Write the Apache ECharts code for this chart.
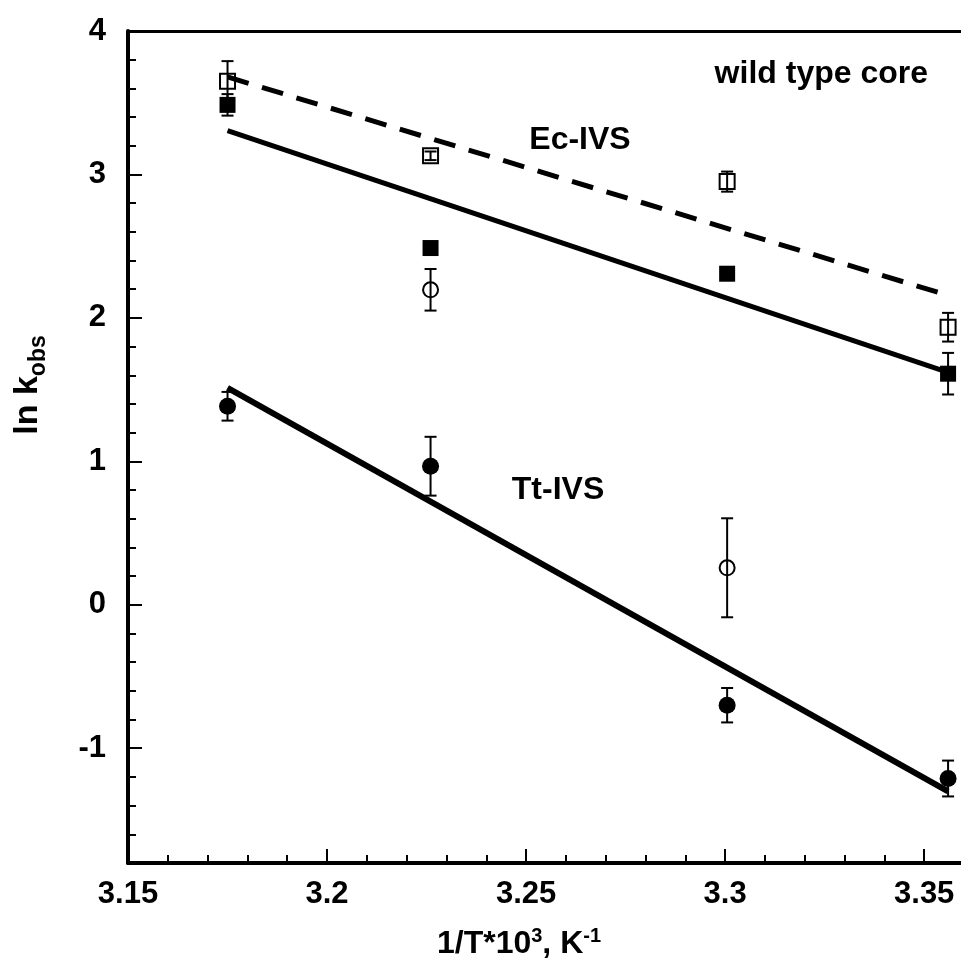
<!DOCTYPE html>
<html><head><meta charset="utf-8">
<script src="https://cdn.jsdelivr.net/npm/echarts@6/dist/echarts.min.js"></script>
<style>html,body{margin:0;padding:0;background:#fff}#c{width:961px;height:964px}</style>
</head><body><div id="c"></div>
<script>
// ---- data ----
const xValues = [3.175, 3.226, 3.3005, 3.356];
const ecOpenSquare = [3.65, 3.13, 2.95, 1.935];
const ecOpenSquareErr = [0.14, 0.03, 0.07, 0.10];
const ecFilledSquare = [3.485, 2.487, 2.308, 1.611];
const ecFilledSquareErr = [0.075, 0.03, 0.03, 0.145];
const ttFilledCircle = [1.384, 0.966, -0.70, -1.211];
const ttFilledCircleErr = [0.10, 0.205, 0.12, 0.125];
const openCircleX = [3.226, 3.3005];
const openCircle = [2.196, 0.258];
const openCircleErr = [0.145, 0.345];
const fitX = [3.175, 3.356];
const ecDashedFit = [3.68, 2.157];
const ecSolidFit = [3.306, 1.62];
const ttSolidFit = [1.512, -1.30];
const xTicks = [3.15, 3.2, 3.25, 3.3, 3.35];
const yTicks = [-1, 0, 1, 2, 3, 4];
const xRange = [3.15, 3.36];
const yRange = [-1.8, 4];

const FONT = '"Liberation Sans", Arial, Helvetica, sans-serif';
const chart = echarts.init(document.getElementById('c'), null, {renderer: 'canvas'});

function pairs(xs, ys) { return xs.map((x, i) => [x, ys[i]]); }
function errSeries(xs, ys, es) {
  return {
    type: 'custom', xAxisIndex: 0, yAxisIndex: 0, silent: true, z: 3,
    encode: {x: 0, y: [1, 2]},
    data: xs.map((x, i) => [x, ys[i] - es[i], ys[i] + es[i]]),
    renderItem(params, api) {
      const lo = api.coord([api.value(0), api.value(1)]);
      const hi = api.coord([api.value(0), api.value(2)]);
      const w = 6;
      const style = {stroke: '#000', lineWidth: 2, fill: null};
      return {type: 'group', children: [
        {type: 'line', shape: {x1: lo[0], y1: lo[1], x2: hi[0], y2: hi[1]}, style},
        {type: 'line', shape: {x1: lo[0] - w, y1: lo[1], x2: lo[0] + w, y2: lo[1]}, style},
        {type: 'line', shape: {x1: hi[0] - w, y1: hi[1], x2: hi[0] + w, y2: hi[1]}, style}
      ]};
    }
  };
}
function fitSeries(ys, dashed, width) {
  return {type: 'line', xAxisIndex: 0, yAxisIndex: 0, data: pairs(fitX, ys), symbol: 'none', silent: true, z: 2,
    lineStyle: {color: '#000', width: width, type: dashed ? [22, 14] : 'solid', cap: 'butt'}};
}
function scatter(xs, ys, symbol, size, filled) {
  return {type: 'scatter', xAxisIndex: 0, yAxisIndex: 0, data: pairs(xs, ys), symbol, symbolSize: size, z: 4, silent: true,
    itemStyle: filled ? {color: '#000', borderWidth: 0, opacity: 1} : {color: 'rgba(0,0,0,0)', borderColor: '#000', borderWidth: 2, opacity: 1}};
}

const labelStyle = {fontSize: 31, fontWeight: 'bold', color: '#000', fontFamily: FONT};
const option = {
  backgroundColor: '#fff',
  animation: false,
  grid: {left: 128, top: 31, right: -3, bottom: 101, containLabel: false, outerBoundsMode: 'none'},
  xAxis: [
    {type: 'value', min: xRange[0], max: xRange[1], position: 'bottom',
      axisLine: {show: true, onZero: false, lineStyle: {color: '#000', width: 4}},
      axisTick: {show: true, inside: true, length: 14, customValues: xTicks, lineStyle: {color: '#000', width: 2}},
      axisLabel: Object.assign({customValues: xTicks, margin: 16}, labelStyle),
      splitLine: {show: false}},
    {type: 'value', min: xRange[0], max: xRange[1], interval: 0.01, position: 'bottom',
      axisLine: {show: false, onZero: false}, axisLabel: {show: false}, splitLine: {show: false},
      axisTick: {show: true, inside: true, length: 8, lineStyle: {color: '#000', width: 2}}},
    {type: 'value', min: xRange[0], max: xRange[1], position: 'top',
      axisLine: {show: true, onZero: false, lineStyle: {color: '#000', width: 3}},
      axisTick: {show: false}, axisLabel: {show: false}, splitLine: {show: false}}
  ],
  yAxis: [
    {type: 'value', min: yRange[0], max: yRange[1], position: 'left',
      axisLine: {show: true, onZero: false, lineStyle: {color: '#000', width: 4}},
      axisTick: {show: true, inside: true, length: 14, customValues: yTicks, lineStyle: {color: '#000', width: 2}},
      axisLabel: Object.assign({customValues: yTicks, margin: 22}, labelStyle),
      splitLine: {show: false}},
    {type: 'value', min: yRange[0], max: yRange[1], interval: 0.2, position: 'left',
      axisLine: {show: false, onZero: false}, axisLabel: {show: false}, splitLine: {show: false},
      axisTick: {show: true, inside: true, length: 8, lineStyle: {color: '#000', width: 2}}}
  ],
  series: [
    fitSeries(ecDashedFit, true, 5),
    fitSeries(ecSolidFit, false, 5),
    fitSeries(ttSolidFit, false, 6),
    errSeries(xValues, ecOpenSquare, ecOpenSquareErr),
    errSeries(xValues, ecFilledSquare, ecFilledSquareErr),
    errSeries(xValues, ttFilledCircle, ttFilledCircleErr),
    errSeries(openCircleX, openCircle, openCircleErr),
    scatter(xValues, ecOpenSquare, 'rect', 15, false),
    scatter(xValues, ecFilledSquare, 'rect', 16, true),
    scatter(xValues, ttFilledCircle, 'circle', 17, true),
    scatter(openCircleX, openCircle, 'circle', 15, false)
  ],
  graphic: [
    {type: 'text', x: 580, y: 140, style: {text: 'Ec-IVS', font: 'bold 32px ' + FONT, fill: '#000', align: 'center', verticalAlign: 'middle'}},
    {type: 'text', x: 558, y: 490, style: {text: 'Tt-IVS', font: 'bold 32px ' + FONT, fill: '#000', align: 'center', verticalAlign: 'middle'}},
    {type: 'text', x: 928, y: 74, style: {text: 'wild type core', font: 'bold 32px ' + FONT, fill: '#000', align: 'right', verticalAlign: 'middle'}},
    {type: 'text', x: 519, y: 944, style: {
      text: '{m|1/T*10}{s|3}{m|, K}{s|-1}', align: 'center', verticalAlign: 'middle',
      rich: {
        m: {fontSize: 32, fontWeight: 'bold', fontFamily: FONT, fill: '#000', lineHeight: 36, verticalAlign: 'middle'},
        s: {fontSize: 20, fontWeight: 'bold', fontFamily: FONT, fill: '#000', lineHeight: 20, verticalAlign: 'top'}
      }}},
    {type: 'text', x: 28, y: 385, rotation: Math.PI / 2, style: {
      text: '{m|ln k}{s|obs}', align: 'center', verticalAlign: 'middle',
      rich: {
        m: {fontSize: 34, fontWeight: 'bold', fontFamily: FONT, fill: '#000', lineHeight: 44, verticalAlign: 'middle'},
        s: {fontSize: 23, fontWeight: 'bold', fontFamily: FONT, fill: '#000', lineHeight: 23, verticalAlign: 'bottom'}
      }}}
  ]
};
chart.setOption(option);
</script>
</body></html>
